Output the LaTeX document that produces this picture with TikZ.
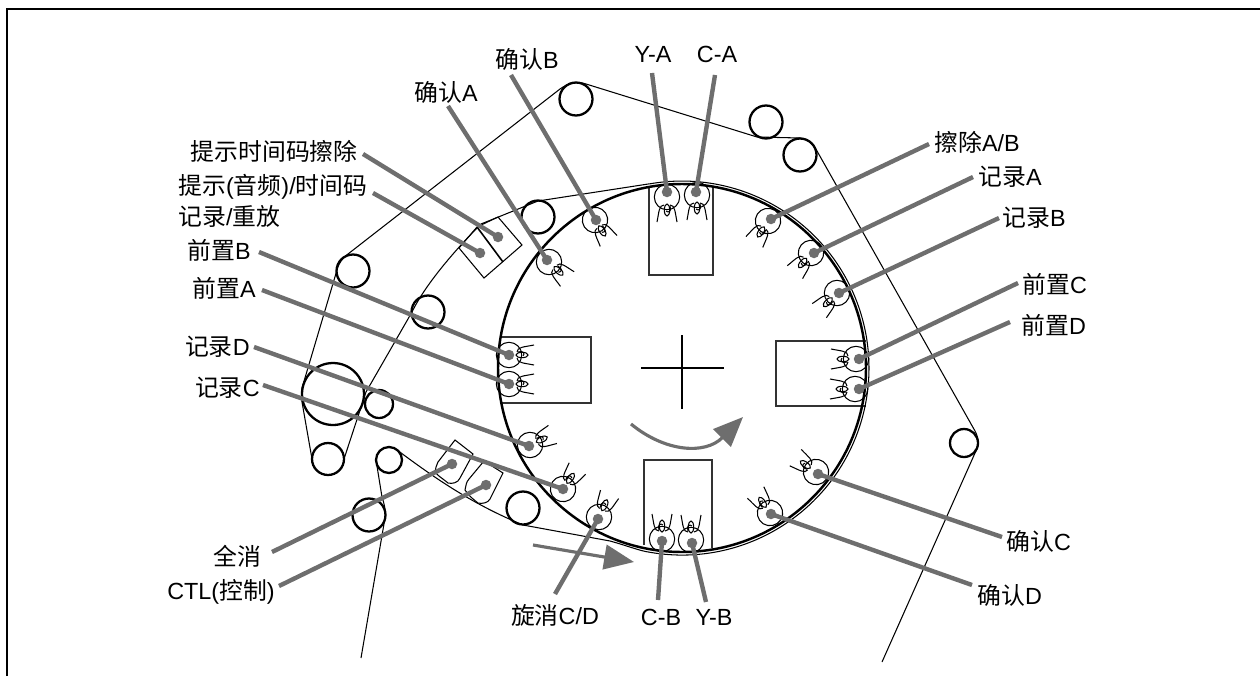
\documentclass[tikz,border=0pt]{standalone}
\usepackage{fontspec}
\setmainfont{Liberation Sans}
\newfontfamily\cjk[Scale=1.02]{Noto Sans CJK SC}
\usetikzlibrary{arrows.meta}
\definecolor{leadgray}{RGB}{110,110,110}
\tikzset{
	tape/.style={line width=0.6pt},
	roller/.style={circle,draw,line width=1.3pt,inner sep=0pt,minimum size=#1*0.04cm},
	hdot/.style={circle,fill=leadgray,inner sep=0pt,minimum size=0.21cm},
	lead/.style={leadgray,line width=2.5pt},
	mount/.style={draw=black!80,line width=0.7pt},
	lbl/.style={inner sep=0pt,font=\fontsize{13.3pt}{17.5pt}\selectfont},
	bigarrow/.style={leadgray,line width=1.8pt,-{Triangle[length=17pt,width=14pt]}},
}
\begin{document}
\begin{tikzpicture}[x=0.02cm,y=-0.02cm]
	\useasboundingbox (0,0) rectangle (1260,676);
	\draw[line width=0.9pt] (7,676) -- (7,9) -- (1260,9);
	% mounting plates
	\draw[mount] (649,186) -- (649,275) -- (713,275) -- (713,186);
	\draw[mount] (500,337) -- (591,337) -- (591,403) -- (500,403);
	\draw[mount] (866,341) -- (776,341) -- (776,406) -- (866,406);
	\draw[mount] (644,545) -- (644,460) -- (712,460) -- (712,548);
	% drum
	\draw[line width=1.4pt] (682,368) circle (184);
	\draw[line width=0.7pt] (641,368) -- (724,368);
	\draw[line width=0.7pt] (682,335) -- (682,409);
	% rollers
	\node[roller=16.5] (rTop) at (576,99) {};
	\node[roller=16.5] (rB) at (766,122) {};
	\node[roller=16.5] (rC) at (800,155) {};
	\node[roller=14] (rD) at (964,443) {};
	\node[roller=16.5] (rE) at (353,271) {};
	\node[roller=16.5] (rF) at (538,217) {};
	\node[roller=16.5] (rG) at (428,312) {};
	\node[roller=31] (rH) at (333,394) {};
	\node[roller=14] (rI) at (379,404) {};
	\node[roller=16] (rJ) at (328,459) {};
	\node[roller=13] (rK) at (389,460) {};
	\node[roller=16.5] (rL) at (369,515) {};
	\node[roller=16.5] (rM) at (523,508) {};
	% tape
	\draw[tape] (361,658) -- (385,518) .. controls (386,510) and (384,503) .. (382,497) -- (376,460)
		arc[start angle=180,end angle=315,radius=13]
		.. controls (440,482) and (475,505) .. (523,525) -- (610,541)
		.. controls (625,545) and (640,551) .. (649.5,552.2)
		arc[start angle=100,end angle=-100,radius=187];
	\draw[tape] (649.5,183.8) -- (538,201) -- (481,224) .. controls (455,250) and (425,285) .. (412,312)
		-- (366,392) -- (344,459)
		arc[start angle=0,end angle=180,radius=16] -- (302,402) -- (302,388) -- (337,270)
		.. controls (339,262) and (343,258) .. (348,254) -- (560,89)
		.. controls (568,83) and (578,81) .. (586,84) -- (757,137) -- (800,138)
		.. controls (808,139) and (813,144) .. (817,151) -- (975,431)
		.. controls (979,438) and (979,447) .. (975,453) -- (882,662);
	% fixed heads
	\draw[line width=0.6pt] (477,227) -- (498,217) -- (522,245) -- (484,278) -- (459,248) -- cycle;
	\draw[line width=0.9pt] (477,227) -- (503,262);
	\draw[line width=0.6pt] (455,440) -- (473,454) -- (460,478) .. controls (458,483) and (452,484) .. (448,483)
		.. controls (442,478) and (438,476) .. (435,472) .. controls (436,468) and (436,465) .. (438,462) -- cycle;
	\draw[line width=0.6pt] (484,461) -- (503,473) -- (490,499) .. controls (488,503) and (482,504) .. (478,503)
		.. controls (473,499) and (469,496) .. (465,490) .. controls (466,486) and (466,482) .. (469,479) -- cycle;
	% record heads with coils
	\foreach \hx/\hy/\ha in {595/220/57,549/262/43,667/197/90,697/195/90,768/221/123,811/253/130,837/293/135,
		856/359/180,855/389/180,816/472/215,770/513/235,691/540/270,662/539/270,599/517/295,563/489/305,530/445/335,
		509/384/0,509/355/0}{
		\begin{scope}[shift={(\hx,\hy)},rotate=-\ha]
			\draw[line width=0.6pt] (0,0) circle (12.7);
			\draw[line width=0.6pt] (25,-10) .. controls (15,-8) and (8,-8) .. (8,-3);
			\draw[line width=0.6pt] (25,10) .. controls (15,8) and (8,8) .. (8,3);
			\draw[line width=0.6pt] (13,0) ellipse (6 and 2.7);
			\draw[line width=0.6pt] (9,-3) .. controls (15,-5) and (16,-1) .. (14,1);
		\end{scope}
	}
	% labels
	\node[lbl,anchor=center] (lblConfirmB) at (527,59) {{\cjk 确认}B};
	\node[lbl,anchor=center] (lblConfirmA) at (446,92) {{\cjk 确认}A};
	\node[lbl,anchor=center] (lblYA) at (653,54) {Y-A};
	\node[lbl,anchor=center] (lblCA) at (717,54) {C-A};
	\node[lbl,anchor=east] (lblCueErase) at (358,151) {\cjk 提示时间码擦除};
	\node[lbl,anchor=north west,align=left] (lblCue) at (178,174) {{\cjk 提示}({\cjk 音频})/{\cjk 时间码}\\{\cjk 记录}/{\cjk 重放}};
	\node[lbl,anchor=east] (lblPreB) at (251,250) {{\cjk 前置}B};
	\node[lbl,anchor=east] (lblPreA) at (256,288) {{\cjk 前置}A};
	\node[lbl,anchor=east] (lblRecD) at (250,347) {{\cjk 记录}D};
	\node[lbl,anchor=east] (lblRecC) at (260,388) {{\cjk 记录}C};
	\node[lbl,anchor=west] (lblEraseAB) at (934,142) {{\cjk 擦除}A/B};
	\node[lbl,anchor=west] (lblRecA) at (978,177) {{\cjk 记录}A};
	\node[lbl,anchor=west] (lblRecB) at (1002,218) {{\cjk 记录}B};
	\node[lbl,anchor=west] (lblPreC) at (1022,284) {{\cjk 前置}C};
	\node[lbl,anchor=west] (lblPreD) at (1021,325) {{\cjk 前置}D};
	\node[lbl,anchor=west] (lblConfirmC) at (1006,541) {{\cjk 确认}C};
	\node[lbl,anchor=west] (lblConfirmD) at (977,595) {{\cjk 确认}D};
	\node[lbl,anchor=east] (lblFullErase) at (262,556) {\cjk 全消};
	\node[lbl,anchor=east] (lblCtl) at (275,592) {CTL({\cjk 控制})};
	\node[lbl,anchor=center] (lblRotErase) at (555,615) {{\cjk 旋消}C/D};
	\node[lbl,anchor=center] (lblCB) at (661,617) {C-B};
	\node[lbl,anchor=center] (lblYB) at (714,617) {Y-B};
	% leaders
	\foreach \dname/\dx/\dy/\sx/\sy in {ConfirmB/596/220/511/75,ConfirmA/547/260/448/106,YA/667/192/652/73,CA/696/192/715/75,
		CueErase/498/237/363/154,Cue/480/253/373/193,PreB/509/355/259/252,PreA/509/384/262/290,RecD/529/446/254/347,
		RecC/563/489/263/385,EraseAB/771/219/929/144,RecA/814/253/973/177,RecB/839/293/999/218,PreC/859/359/1018/283,
		PreD/859/389/1010/322,ConfirmC/818/474/1002/537,ConfirmD/771/514/972/585,FullErase/452/464/272/552,Ctl/486/485/279/586,
		RotErase/598/519/555/594,CB/662/541/658/600,YB/692/543/706/602}{
		\node[hdot] (dot\dname) at (\dx,\dy) {};
		\coordinate (end\dname) at (\sx,\sy);
		\draw[lead] (end\dname) -- (dot\dname.center);
	}
	% motion arrows
	\coordinate (tapeA) at (533,545);
	\coordinate (tapeB) at (634,562);
	\coordinate (drumA) at (631,424);
	\coordinate (drumB) at (743,417);
	\draw[bigarrow] (tapeA) -- (tapeB);
	\draw[bigarrow] (drumA) .. controls (665,452) and (705,455) .. (drumB);
\end{tikzpicture}
\end{document}
